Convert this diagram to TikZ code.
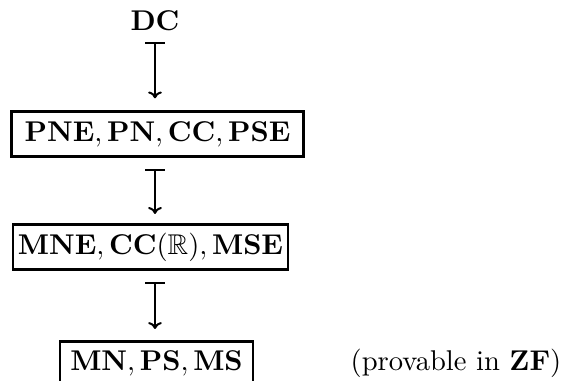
\documentclass[tikz,border=0pt]{standalone}
\usepackage{amssymb}
\usetikzlibrary{arrows.meta}
\begin{document}
\begin{tikzpicture}[x=0.35pt,y=-0.35pt,
  framebox/.style={draw,line width=0.95pt,inner sep=0pt,minimum height=15.6pt},
  mapsarrow/.style={line width=0.7pt,{Bar[width=7pt,line width=0.7pt]}-{To[width=4.8pt,length=2.4pt]}}]
\useasboundingbox (0,0) rectangle (562,381);
\node (dc) at (155,21) {$\mathbf{DC}$};
\node[framebox,minimum width=102.2pt] (b1) at (157.5,134) {$\mathbf{PNE},\mathbf{PN},\mathbf{CC},\mathbf{PSE}$};
\node[framebox,minimum width=96.25pt] (b2) at (150.5,247) {$\mathbf{MNE},\mathbf{CC}(\mathbb{R}),\mathbf{MSE}$};
\node[framebox,minimum width=67.5pt] (b3) at (156.5,363.5) {$\mathbf{MN},\mathbf{PS},\mathbf{MS}$};
\coordinate (zfx) at (456,0);
\node[anchor=base,inner sep=0pt] (zf) at (b3.base -| zfx) {(provable in $\mathbf{ZF}$)};
\draw[mapsarrow,shorten <=0.3pt,shorten >=4.2pt] (dc.south) -- (dc.south |- b1.north);
\draw[mapsarrow,shorten <=3.9pt,shorten >=3.3pt] (dc.south |- b1.south) -- (dc.south |- b2.north);
\draw[mapsarrow,shorten <=4pt,shorten >=3.8pt] (dc.south |- b2.south) -- (dc.south |- b3.north);
\end{tikzpicture}
\end{document}
